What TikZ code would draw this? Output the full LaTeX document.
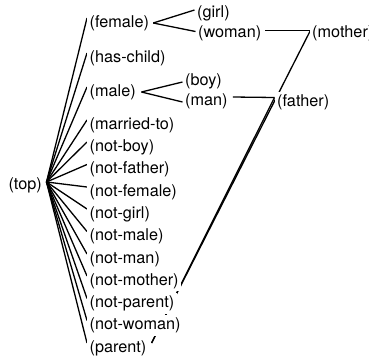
\documentclass[tikz,border=0pt]{standalone}
\usepackage{fontspec}
\setmainfont{TeX Gyre Heros}
\usetikzlibrary{backgrounds}
\begin{document}
\begin{tikzpicture}[x=1bp,y=-1bp,
  lbl/.style={fill=white,inner sep=2.5bp,font=\fontsize{16.3}{19}\selectfont},
  con/.style={line width=1.3bp}]
\useasboundingbox (0,0) rectangle (369,360);
% top
\node[lbl,anchor=east] (top) at (44.5,185) {(top)};
% left column
\node[lbl,anchor=west] (female)    at (87,23)    {(female)};
\node[lbl,anchor=west] (haschild)  at (87,58)    {(has-child)};
\node[lbl,anchor=west] (male)      at (87,92)    {(male)};
\node[lbl,anchor=west] (married)   at (87,125)   {(married-to)};
\node[lbl,anchor=west] (notboy)    at (87,147)   {(not-boy)};
\node[lbl,anchor=west] (notfather) at (87,169.5) {(not-father)};
\node[lbl,anchor=west] (notfemale) at (87,192)   {(not-female)};
\node[lbl,anchor=west] (notgirl)   at (87,214)   {(not-girl)};
\node[lbl,anchor=west] (notmale)   at (87,236.5) {(not-male)};
\node[lbl,anchor=west] (notman)    at (87,259)   {(not-man)};
\node[lbl,anchor=west] (notmother) at (87,281)   {(not-mother)};
\node[lbl,anchor=west] (notparent) at (87,303.5) {(not-parent)};
\node[lbl,anchor=west] (notwoman)  at (87,325.5) {(not-woman)};
\node[lbl,anchor=west] (parent)    at (87,348)   {(parent)};
% second column
\node[lbl,anchor=west] (girl)  at (194.5,13)  {(girl)};
\node[lbl,anchor=west] (woman) at (195.5,33)  {(woman)};
\node[lbl,anchor=west] (boy)   at (182.5,81)  {(boy)};
\node[lbl,anchor=west] (man)   at (182.5,101.5) {(man)};
% right
\node[lbl,anchor=west] (father) at (274.5,102) {(father)};
\node[lbl,anchor=west] (mother) at (309.5,33)  {(mother)};
\begin{scope}[on background layer]
\foreach \n in {female,haschild,male,married,notboy,notfather,notfemale,notgirl,notmale,notman,notmother,notparent,notwoman,parent}
  \draw[con] ([xshift=2bp,yshift=3bp]top.east) -- ([yshift=5bp]\n.west);
\draw[con] ([xshift=1.5bp]female.east) -- ([yshift=3bp]girl.west);
\draw[con] ([xshift=1.5bp]female.east) -- ([yshift=1.5bp]woman.west);
\draw[con] ([xshift=3bp]male.east) -- ([yshift=-1bp]boy.west);
\draw[con] ([xshift=3bp]male.east) -- ([yshift=-0.5bp]man.west);
\draw[con] ([xshift=1.5bp,yshift=2.7bp]woman.east) -- ([xshift=1bp,yshift=2.7bp]mother.west);
\draw[con] ([xshift=2.5bp,yshift=4.5bp]man.east) -- ([yshift=4.5bp]father.west);
\draw[con] ([xshift=1bp,yshift=2.7bp]mother.west) -- ([xshift=2.5bp,yshift=5bp]parent.east);
\draw[con] ([yshift=4.5bp]father.west) -- ([xshift=2.5bp,yshift=5bp]parent.east);
\end{scope}
\end{tikzpicture}
\end{document}
